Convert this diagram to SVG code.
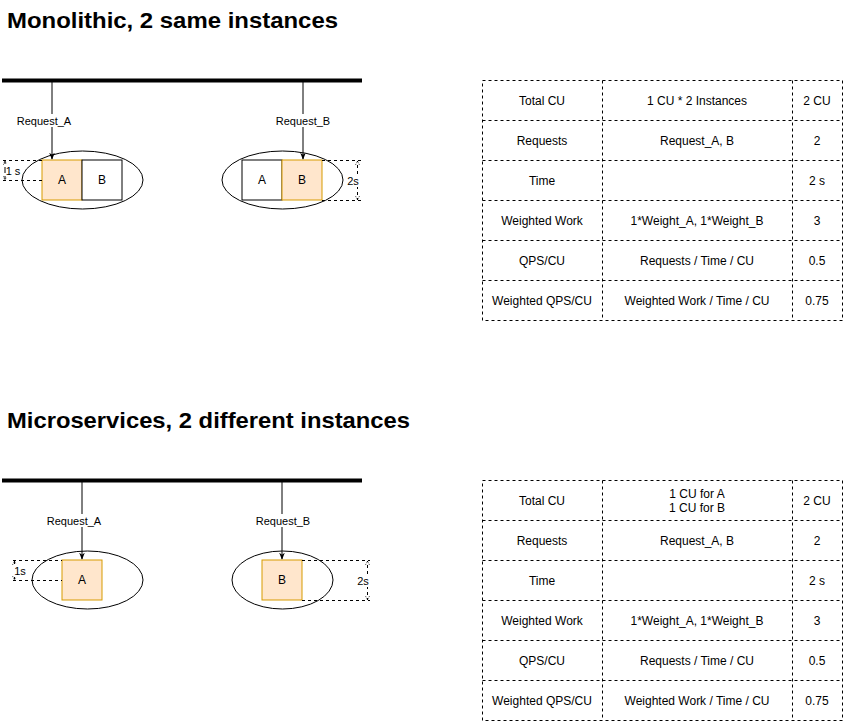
<svg xmlns="http://www.w3.org/2000/svg" width="843" height="721" viewBox="0 0 843 721">
<defs>
<style>
text{font-family:"Liberation Sans",Arial,sans-serif;fill:#000}
.title{font-size:22.5px;font-weight:bold}
.lbl{font-size:11px;text-anchor:middle}
.cell{font-size:12px;text-anchor:middle}
.bus{stroke:#000;stroke-width:4;fill:none}
.conn{stroke:#000;stroke-width:1;fill:none}
.ell{fill:#fff;stroke:#000;stroke-width:1}
.boxo{fill:#ffe6cc;stroke:#d79b00;stroke-width:1}
.boxw{fill:#fff;stroke:#000;stroke-width:1}
.dash{stroke:#000;stroke-width:1;stroke-dasharray:3 3;fill:none}
.tbl{fill:none;stroke:#000;stroke-width:1;stroke-dasharray:3 3}
.bg{fill:#fff}
</style>
<marker id="arr" viewBox="0 0 10 10" refX="9" refY="5" markerWidth="7" markerHeight="7" orient="auto">
<path d="M0,1 L10,5 L0,9 L3,5 Z" fill="#000"/>
</marker>
<marker id="dimarr" viewBox="0 0 10 10" refX="9" refY="5" markerWidth="5" markerHeight="5" orient="auto">
<path d="M1,1 L9,5 L1,9" fill="none" stroke="#000" stroke-width="1.5" stroke-dasharray="2 2"/>
</marker>
</defs>

<text class="title" x="7" y="28" textLength="331" lengthAdjust="spacingAndGlyphs">Monolithic, 2 same instances</text>
<text class="title" x="7" y="428" textLength="403" lengthAdjust="spacingAndGlyphs">Microservices, 2 different instances</text>

<!-- top section -->
<g id="bus1"><line class="bus" x1="2" y1="80.5" x2="362" y2="80.5"/></g>
<g id="inst1">
<ellipse class="ell" cx="82.5" cy="180" rx="60.5" ry="29"/>
<rect class="boxo" x="42" y="160" width="40" height="40"/>
<text class="cell" x="62" y="184">A</text>
<rect class="boxw" x="82" y="160" width="40" height="40"/>
<text class="cell" x="102" y="184">B</text>
</g>
<g id="inst2">
<ellipse class="ell" cx="282.5" cy="180" rx="60.5" ry="29"/>
<rect class="boxw" x="242" y="160" width="40" height="40"/>
<text class="cell" x="262" y="184">A</text>
<rect class="boxo" x="282" y="160" width="40" height="40"/>
<text class="cell" x="302" y="184">B</text>
</g>

<!-- bottom section -->
<g id="bus2"><line class="bus" x1="2" y1="480.5" x2="362" y2="480.5"/></g>
<g id="inst3">
<ellipse class="ell" cx="87.5" cy="580" rx="55.5" ry="29"/>
<rect class="boxo" x="62" y="560" width="40" height="40"/>
<text class="cell" x="82" y="584">A</text>
</g>
<g id="inst4">
<ellipse class="ell" cx="282.5" cy="580" rx="50.5" ry="29"/>
<rect class="boxo" x="262" y="560" width="40" height="40"/>
<text class="cell" x="282" y="584">B</text>
</g>

<g id="connectors">
<line class="conn" x1="52" y1="82" x2="52" y2="159" marker-end="url(#arr)"/>
<rect class="bg" x="17" y="114" width="54" height="13"/>
<text class="lbl" x="44" y="125">Request_A</text>
<line class="conn" x1="303" y1="82" x2="303" y2="159" marker-end="url(#arr)"/>
<rect class="bg" x="276" y="114" width="54" height="13"/>
<text class="lbl" x="303" y="125">Request_B</text>
<line class="conn" x1="82" y1="482" x2="82" y2="559" marker-end="url(#arr)"/>
<rect class="bg" x="47" y="514" width="54" height="13"/>
<text class="lbl" x="74" y="525">Request_A</text>
<line class="conn" x1="282" y1="482" x2="282" y2="559" marker-end="url(#arr)"/>
<rect class="bg" x="256" y="514" width="54" height="13"/>
<text class="lbl" x="283" y="525">Request_B</text>
</g>

<g id="dims">
<line class="dash" x1="3" y1="160.5" x2="42" y2="160.5"/>
<line class="dash" x1="3" y1="180.5" x2="42" y2="180.5"/>
<line class="dash" x1="5" y1="170" x2="5" y2="161" marker-end="url(#dimarr)"/>
<line class="dash" x1="5" y1="170" x2="5" y2="180" marker-end="url(#dimarr)"/>
<rect class="bg" x="6" y="164" width="14" height="13"/>
<text class="lbl" x="13" y="175">1 s</text>

<line class="dash" x1="322" y1="160.5" x2="362" y2="160.5"/>
<line class="dash" x1="322" y1="200.5" x2="362" y2="200.5"/>
<line class="dash" x1="357.5" y1="180" x2="357.5" y2="161" marker-end="url(#dimarr)"/>
<line class="dash" x1="357.5" y1="180" x2="357.5" y2="200" marker-end="url(#dimarr)"/>
<rect class="bg" x="346" y="174" width="14" height="13"/>
<text class="lbl" x="353" y="185">2s</text>

<line class="dash" x1="13" y1="560.5" x2="62" y2="560.5"/>
<line class="dash" x1="13" y1="580.5" x2="62" y2="580.5"/>
<line class="dash" x1="14.5" y1="570" x2="14.5" y2="561" marker-end="url(#dimarr)"/>
<line class="dash" x1="14.5" y1="570" x2="14.5" y2="580" marker-end="url(#dimarr)"/>
<rect class="bg" x="14" y="564" width="13" height="13"/>
<text class="lbl" x="20" y="575">1s</text>

<line class="dash" x1="302" y1="560.5" x2="370" y2="560.5"/>
<line class="dash" x1="302" y1="600.5" x2="370" y2="600.5"/>
<line class="dash" x1="367.5" y1="580" x2="367.5" y2="561" marker-end="url(#dimarr)"/>
<line class="dash" x1="367.5" y1="580" x2="367.5" y2="600" marker-end="url(#dimarr)"/>
<rect class="bg" x="356" y="574" width="14" height="13"/>
<text class="lbl" x="363" y="585">2s</text>
</g>

<g id="table1">
<rect class="tbl" x="482.5" y="80.5" width="360" height="240"/>
<line class="tbl" x1="602.5" y1="80.5" x2="602.5" y2="320.5"/>
<line class="tbl" x1="792.5" y1="80.5" x2="792.5" y2="320.5"/>
<line class="tbl" x1="482.5" y1="120.5" x2="842.5" y2="120.5"/>
<line class="tbl" x1="482.5" y1="160.5" x2="842.5" y2="160.5"/>
<line class="tbl" x1="482.5" y1="200.5" x2="842.5" y2="200.5"/>
<line class="tbl" x1="482.5" y1="240.5" x2="842.5" y2="240.5"/>
<line class="tbl" x1="482.5" y1="280.5" x2="842.5" y2="280.5"/>
<text class="cell" x="542" y="105">Total CU</text>
<text class="cell" x="697" y="105">1 CU * 2 Instances</text>
<text class="cell" x="817" y="105">2 CU</text>
<text class="cell" x="542" y="145">Requests</text>
<text class="cell" x="697" y="145">Request_A, B</text>
<text class="cell" x="817" y="145">2</text>
<text class="cell" x="542" y="185">Time</text>
<text class="cell" x="817" y="185">2 s</text>
<text class="cell" x="542" y="225">Weighted Work</text>
<text class="cell" x="697" y="225">1*Weight_A, 1*Weight_B</text>
<text class="cell" x="817" y="225">3</text>
<text class="cell" x="542" y="265">QPS/CU</text>
<text class="cell" x="697" y="265">Requests / Time / CU</text>
<text class="cell" x="817" y="265">0.5</text>
<text class="cell" x="542" y="305">Weighted QPS/CU</text>
<text class="cell" x="697" y="305">Weighted Work / Time / CU</text>
<text class="cell" x="817" y="305">0.75</text>
</g>

<g id="table2">
<rect class="tbl" x="482.5" y="480.5" width="360" height="240"/>
<line class="tbl" x1="602.5" y1="480.5" x2="602.5" y2="720.5"/>
<line class="tbl" x1="792.5" y1="480.5" x2="792.5" y2="720.5"/>
<line class="tbl" x1="482.5" y1="520.5" x2="842.5" y2="520.5"/>
<line class="tbl" x1="482.5" y1="560.5" x2="842.5" y2="560.5"/>
<line class="tbl" x1="482.5" y1="600.5" x2="842.5" y2="600.5"/>
<line class="tbl" x1="482.5" y1="640.5" x2="842.5" y2="640.5"/>
<line class="tbl" x1="482.5" y1="680.5" x2="842.5" y2="680.5"/>
<text class="cell" x="542" y="505">Total CU</text>
<text class="cell" x="697" y="498">1 CU for A</text>
<text class="cell" x="697" y="512">1 CU for B</text>
<text class="cell" x="817" y="505">2 CU</text>
<text class="cell" x="542" y="545">Requests</text>
<text class="cell" x="697" y="545">Request_A, B</text>
<text class="cell" x="817" y="545">2</text>
<text class="cell" x="542" y="585">Time</text>
<text class="cell" x="817" y="585">2 s</text>
<text class="cell" x="542" y="625">Weighted Work</text>
<text class="cell" x="697" y="625">1*Weight_A, 1*Weight_B</text>
<text class="cell" x="817" y="625">3</text>
<text class="cell" x="542" y="665">QPS/CU</text>
<text class="cell" x="697" y="665">Requests / Time / CU</text>
<text class="cell" x="817" y="665">0.5</text>
<text class="cell" x="542" y="705">Weighted QPS/CU</text>
<text class="cell" x="697" y="705">Weighted Work / Time / CU</text>
<text class="cell" x="817" y="705">0.75</text>
</g>
</svg>
